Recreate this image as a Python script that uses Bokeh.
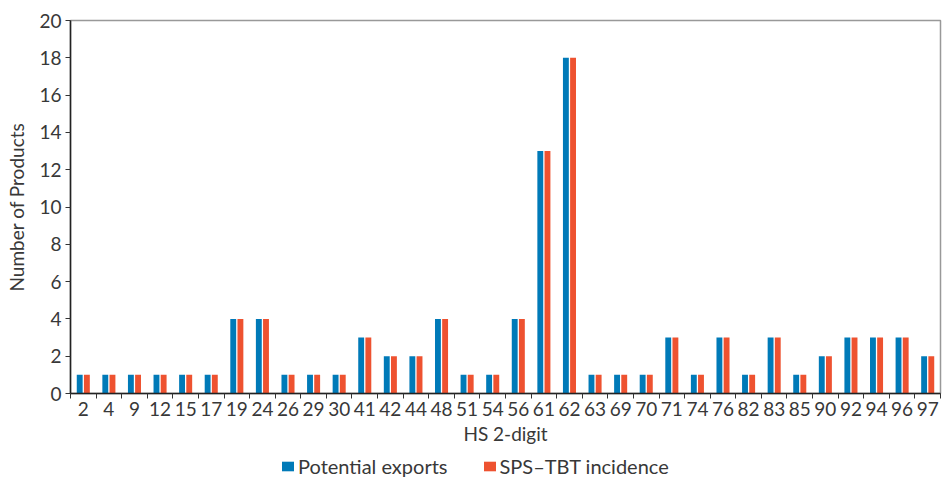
from bokeh.plotting import figure
from bokeh.layouts import column
from bokeh.models import ColumnDataSource, FixedTicker, Legend, LegendItem, Range1d
from bokeh.embed import file_html
from bokeh.resources import INLINE

# ---- data ----
hs_codes = ["2", "4", "9", "12", "15", "17", "19", "24", "26", "29", "30", "41", "42", "44",
            "48", "51", "54", "56", "61", "62", "63", "69", "70", "71", "74", "76", "82", "83",
            "85", "90", "92", "94", "96", "97"]
potential_exports = [1, 1, 1, 1, 1, 1, 4, 4, 1, 1, 1, 3, 2, 2,
                     4, 1, 1, 4, 13, 18, 1, 1, 1, 3, 1, 3, 1, 3,
                     1, 2, 3, 3, 3, 2]
sps_tbt_incidence = [1, 1, 1, 1, 1, 1, 4, 4, 1, 1, 1, 3, 2, 2,
                     4, 1, 1, 4, 13, 18, 1, 1, 1, 3, 1, 3, 1, 3,
                     1, 2, 3, 3, 3, 2]
y_ticks = [0, 2, 4, 6, 8, 10, 12, 14, 16, 18, 20]
series_names = ["Potential exports", "SPS\u2013TBT incidence"]

BLUE = "#007AB8"
ORANGE = "#EE5230"
FONT = "Lato"
TXT = "#383838"
FS = "19px"

n = len(hs_codes)
centers = [i + 0.5 for i in range(n)]
boundaries = [float(i) for i in range(n + 1)]

src = ColumnDataSource(dict(
    x_blue=[c - 0.14 for c in centers],
    x_orange=[c + 0.14 for c in centers],
    pe=potential_exports,
    sps=sps_tbt_incidence,
))

p = figure(width=942, height=452, output_backend="svg", toolbar_location=None,
           x_range=Range1d(0, n), y_range=Range1d(0, 20),
           min_border_left=70, min_border_right=2, min_border_top=20, min_border_bottom=59)

p.vbar(x="x_blue", top="pe", width=0.23, bottom=0, source=src,
       fill_color=BLUE, line_color=None)
p.vbar(x="x_orange", top="sps", width=0.23, bottom=0, source=src,
       fill_color=ORANGE, line_color=None)

p.xgrid.visible = False
p.ygrid.visible = False
p.outline_line_color = "#999999"
p.outline_line_width = 1.5

# x axis
xa = p.xaxis[0]
xa.ticker = FixedTicker(ticks=centers, minor_ticks=boundaries)
xa.major_label_overrides = {c: lab for c, lab in zip(centers, hs_codes)}
xa.major_tick_line_color = None
xa.major_tick_out = 5
xa.major_tick_in = 0
xa.minor_tick_out = 5
xa.minor_tick_in = 0
xa.minor_tick_line_color = "#333333"
xa.axis_line_color = "#222222"
xa.axis_line_width = 1.5
xa.major_label_standoff = 3
xa.major_label_text_font = FONT
xa.major_label_text_font_size = FS
xa.major_label_text_color = TXT
xa.axis_label = "HS 2-digit"
xa.axis_label_text_font = FONT
xa.axis_label_text_font_size = FS
xa.axis_label_text_font_style = "normal"
xa.axis_label_text_color = TXT
xa.axis_label_standoff = 3

# y axis
ya = p.yaxis[0]
ya.ticker = FixedTicker(ticks=y_ticks)
ya.minor_tick_line_color = None
ya.major_tick_out = 5
ya.major_tick_in = 0
ya.major_tick_line_color = "#333333"
ya.axis_line_color = "#222222"
ya.axis_line_width = 1.5
ya.major_label_standoff = 4
ya.major_label_text_font = FONT
ya.major_label_text_font_size = FS
ya.major_label_text_color = TXT
ya.axis_label = "Number of Products"
ya.axis_label_text_font = FONT
ya.axis_label_text_font_size = FS
ya.axis_label_text_font_style = "normal"
ya.axis_label_text_color = TXT
ya.axis_label_standoff = 8

# legend strip below the chart (same series, drawn outside this strip's visible range)
lg = figure(width=942, height=29, output_backend="svg", toolbar_location=None,
            x_range=Range1d(-20, -10), y_range=Range1d(-20, -10),
            x_axis_location=None, y_axis_location=None,
            min_border_left=0, min_border_right=0, min_border_top=0, min_border_bottom=0)
lg.outline_line_color = None
lg.grid.visible = False
k1 = lg.quad(left="x_blue", right="x_orange", top="pe", bottom=0, source=src,
             fill_color=BLUE, line_color=None)
k2 = lg.quad(left="x_blue", right="x_orange", top="sps", bottom=0, source=src,
             fill_color=ORANGE, line_color=None)

legend = Legend(items=[LegendItem(label=series_names[0], renderers=[k1]),
                       LegendItem(label=series_names[1], renderers=[k2])],
                orientation="horizontal", location=(210, 3),
                label_text_font=FONT, label_text_font_size="20px", label_text_color=TXT,
                glyph_width=15, glyph_height=12, label_standoff=3, spacing=34,
                padding=0, margin=0, border_line_color=None, background_fill_alpha=0)
lg.add_layout(legend, "center")

open("out.html", "w").write(file_html(column(p, lg, spacing=0), INLINE))
